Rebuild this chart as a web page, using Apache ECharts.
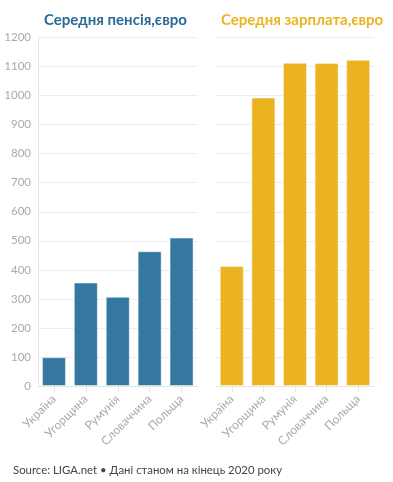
<!DOCTYPE html>
<html><head><meta charset="utf-8">
<script src="https://cdn.jsdelivr.net/npm/echarts@6/dist/echarts.min.js"></script>
<style>html,body{margin:0;padding:0;background:#fff}#c{width:393px;height:482px}</style>
</head><body><div id="c"></div>
<script>
var categories = ['Україна', 'Угорщина', 'Румунія', 'Словаччина', 'Польща'];
var pension = [99, 356, 307, 464, 511];
var salary = [413, 993, 1113, 1112, 1123];
var titleLeft = 'Середня пенсія,євро';
var titleRight = 'Середня зарплата,євро';
var sourceText = 'Source: LIGA.net • Дані станом на кінець 2020 року';

var FONT = 'Lato';
var chart = echarts.init(document.getElementById('c'), null, {renderer: 'canvas'});
function xAx(gi) {
  return {
    type: 'category', gridIndex: gi, data: categories,
    axisLine: {show: true, lineStyle: {color: '#e6e6e6'}},
    axisTick: {show: true, alignWithLabel: true, length: 6, lineStyle: {color: '#e3e3e3'}},
    axisLabel: {rotate: 45, color: '#aaaaaa', fontSize: 12, fontFamily: FONT, margin: 11}
  };
}
function yAx(gi, showLabel) {
  return {
    type: 'value', gridIndex: gi, min: 0, max: 1200, interval: 100,
    axisLine: {show: showLabel, lineStyle: {color: '#e6e6e6'}},
    axisTick: {show: false},
    splitLine: {show: true, lineStyle: {color: '#ececec'}},
    axisLabel: {show: showLabel, color: '#aaaaaa', fontSize: 11.5, fontFamily: FONT, margin: 7,
      formatter: function (v) { return String(v); }}
  };
}
chart.setOption({
  animation: false,
  title: [
    {text: titleLeft, left: 39, top: 8, textStyle: {color: '#2a6a96', fontSize: 15, fontWeight: 'bold', fontFamily: FONT}},
    {text: titleRight, left: 216, top: 8, textStyle: {color: '#ecb321', fontSize: 15, fontWeight: 'bold', fontFamily: FONT}},
    {text: sourceText, left: 8, top: 460, textStyle: {color: '#444', fontSize: 11.4, fontWeight: 'normal', fontFamily: FONT}}
  ],
  grid: [
    {left: 38, right: 195.5, top: 37.5, bottom: 96},
    {left: 216, right: 19, top: 37.5, bottom: 96}
  ],
  xAxis: [xAx(0), xAx(1)],
  yAxis: [yAx(0, true), yAx(1, false)],
  series: [
    {type: 'bar', xAxisIndex: 0, yAxisIndex: 0, data: pension, barWidth: 24,
     itemStyle: {color: '#3478a0', borderColor: 'rgba(255,255,255,0.45)', borderWidth: 1}},
    {type: 'bar', xAxisIndex: 1, yAxisIndex: 1, data: salary, barWidth: 24,
     itemStyle: {color: '#ecb321', borderColor: 'rgba(255,255,255,0.45)', borderWidth: 1}}
  ]
});
</script></body></html>
